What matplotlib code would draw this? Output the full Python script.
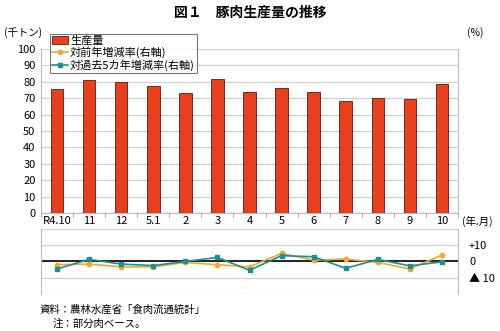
import numpy as np
import matplotlib.pyplot as plt
from matplotlib.patches import Patch
from matplotlib.lines import Line2D

plt.rcParams['font.family'] = ['Noto Sans CJK JP', 'DejaVu Sans']

# データ
months = ['R4.10', '11', '12', '5.1', '2', '3', '4', '5', '6', '7', '8', '9', '10']
production = [75.6, 81.1, 79.9, 77.6, 73.2, 81.5, 74.0, 76.2, 73.8, 68.5, 70.3, 69.5, 78.7]
yoy_rate = [-2.0, -1.6, -3.3, -3.3, -0.6, -2.0, -3.3, 5.0, 0.8, 1.5, -0.6, -4.6, 4.0]
five_year_rate = [-4.6, 1.3, -1.6, -2.5, 0.0, 2.5, -5.4, 3.6, 2.9, -4.2, 1.3, -2.7, -0.2]

bar_color = '#E8401C'
yoy_color = '#F0A830'
five_color = '#1A9090'
grid_color = '#D0D0D0'

fig = plt.figure(figsize=(5.0, 3.31), dpi=100)
x = np.arange(len(months))

# 上段：生産量
ax1 = fig.add_axes([0.082, 0.3565, 0.834, 0.4955])
ax1.bar(x, production, width=0.39, color=bar_color, edgecolor='#5a1a0a', linewidth=0.6, zorder=3)
ax1.set_xlim(-0.5, len(months) - 0.5)
ax1.set_ylim(0, 100)
ax1.set_yticks(np.arange(0, 101, 10))
ax1.yaxis.grid(True, color=grid_color, linewidth=0.9, zorder=0)
ax1.set_xticks(x)
ax1.set_xticklabels(months)
ax1.set_xticks(np.arange(-0.5, len(months), 1), minor=True)
ax1.tick_params(axis='x', which='major', length=0, labelsize=8, pad=2)
ax1.tick_params(axis='x', which='minor', length=3, color='#999999')
ax1.tick_params(axis='y', length=0, labelsize=8, pad=4)
ax1.spines['top'].set_visible(False)
for s in ['left', 'right', 'bottom']:
    ax1.spines[s].set_color('#BBBBBB')

# 下段：増減率
ax2 = fig.add_axes([0.082, 0.1118, 0.834, 0.1964])
ax2.plot(x, yoy_rate, color=yoy_color, marker='o', markersize=3.2, linewidth=1.2, zorder=3)
ax2.plot(x, five_year_rate, color=five_color, marker='s', markersize=3.2, linewidth=1.2, zorder=4)
ax2.axhline(0, color='#222222', linewidth=1.4, zorder=2)
ax2.set_xlim(-0.5, len(months) - 0.5)
ax2.set_ylim(-20, 20)
ax2.set_yticks([-20, -10, 0, 10, 20])
ax2.yaxis.grid(True, color=grid_color, linewidth=0.9, zorder=0)
ax2.set_xticks([])
ax2.yaxis.tick_right()
ax2.set_yticklabels(['', '▲ 10', '0', '+10', ''])
ax2.tick_params(axis='y', length=0, labelsize=8, pad=8)
for s in ['top', 'bottom']:
    ax2.spines[s].set_visible(False)
for s in ['left', 'right']:
    ax2.spines[s].set_color('#BBBBBB')

# 凡例
handles = [
    Patch(facecolor=bar_color, edgecolor='#5a1a0a', linewidth=0.6),
    Line2D([0], [0], color=yoy_color, marker='o', markersize=3, linewidth=1.2),
    Line2D([0], [0], color=five_color, marker='s', markersize=3, linewidth=1.2),
]
labels = ['生産量', '対前年増減率(右軸)', '対過去5カ年増減率(右軸)']
leg = fig.legend(handles, labels, loc='upper left', bbox_to_anchor=(0.1, 0.898),
                 fontsize=8, frameon=True, fancybox=False, borderpad=0.2,
                 labelspacing=0.05, handlelength=1.4, handletextpad=0.2,
                 borderaxespad=0)
leg.get_frame().set_edgecolor('#555555')
leg.get_frame().set_linewidth(0.8)

# テキスト
fig.text(0.5, 0.962, '図１　豚肉生産量の推移', ha='center', va='center', fontsize=10, fontweight='bold')
fig.text(0.008, 0.903, '(千トン)', ha='left', va='center', fontsize=7.5)
fig.text(0.935, 0.903, '(%)', ha='left', va='center', fontsize=7.5)
fig.text(0.924, 0.330, '(年.月)', ha='left', va='center', fontsize=7.5)
fig.text(0.08, 0.063, '資料：農林水産省「食肉流通統計」', ha='left', va='center', fontsize=7.5)
fig.text(0.105, 0.022, '注：部分肉ベース。', ha='left', va='center', fontsize=7.5)

plt.savefig('out.png', dpi=100)
plt.close()
